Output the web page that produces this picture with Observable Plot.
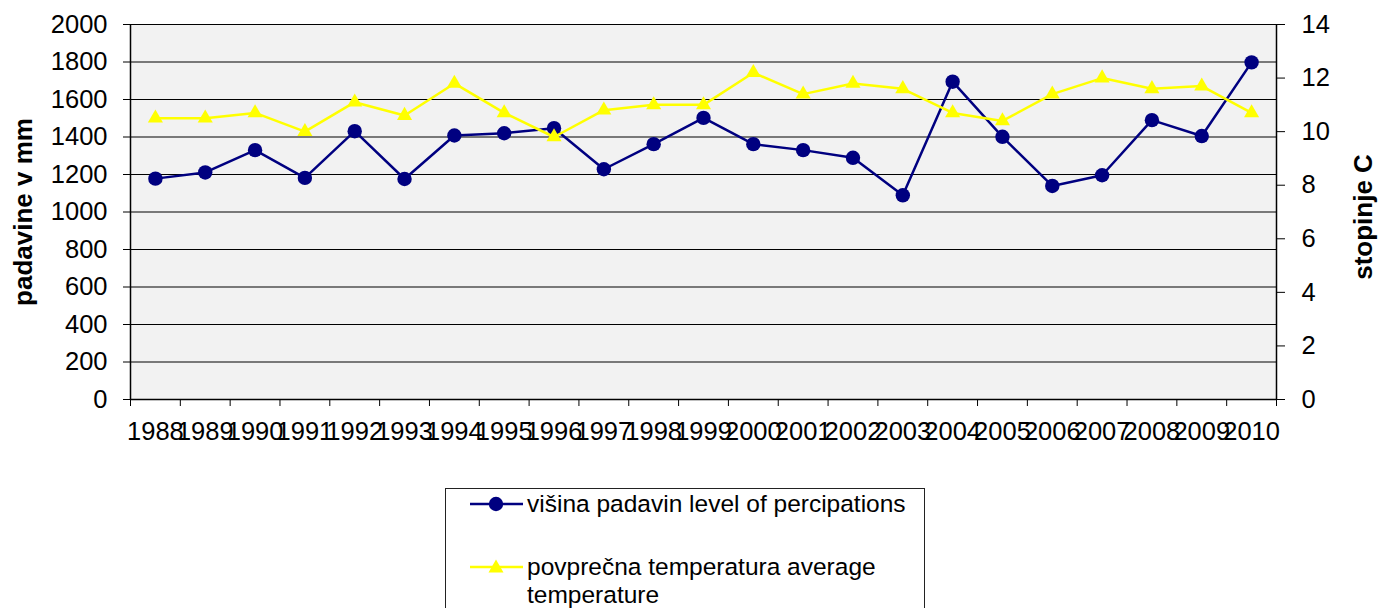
<!DOCTYPE html>
<html>
<head>
<meta charset="utf-8">
<script src="https://cdn.jsdelivr.net/npm/d3@7"></script>
<script src="https://cdn.jsdelivr.net/npm/@observablehq/plot@0.6"></script>
<style>
  html, body { margin: 0; padding: 0; background: #fff; }
  body { width: 1378px; height: 608px; overflow: hidden; font-family: "Liberation Sans", Arial, sans-serif; }
  #chart svg { display: block; }
  #legend { position: relative; margin-left: 445px; margin-top: 18px; width: 480px; height: 140px; border: 1px solid #222; box-sizing: border-box; font-size: 24.5px; color: #000; }
  #legend .row { position: absolute; left: 81px; line-height: 28px; white-space: nowrap; }
  #legend svg { position: absolute; left: 24px; }
</style>
</head>
<body>
<div id="chart"></div>
<div id="legend">
  <svg width="54" height="20" style="top:5px"><line x1="0" x2="53" y1="10" y2="10" stroke="#000080" stroke-width="2.5"/><circle cx="26" cy="10" r="7.2" fill="#000080"/></svg>
  <div class="row" style="top:1px">višina padavin level of percipations</div>
  <svg width="54" height="20" style="top:68px"><line x1="0" x2="53" y1="10" y2="10" stroke="#ffff00" stroke-width="2.5"/><polygon points="26,2.5 33.5,15.5 18.5,15.5" fill="#ffff00"/></svg>
  <div class="row" style="top:64px">povprečna temperatura average<br>temperature</div>
</div>
<script>
const years = [1988,1989,1990,1991,1992,1993,1994,1995,1996,1997,1998,1999,2000,2001,2002,2003,2004,2005,2006,2007,2008,2009,2010];
const precipitation = [1178,1211,1330,1182,1431,1176,1408,1420,1447,1228,1362,1502,1362,1330,1289,1089,1695,1401,1139,1196,1490,1405,1798];
const temperature = [10.5,10.5,10.7,10.0,11.1,10.6,11.8,10.7,9.8,10.8,11.0,11.0,12.2,11.4,11.8,11.6,10.7,10.4,11.4,12.0,11.6,11.7,10.7];
const leftTicks = [0,200,400,600,800,1000,1200,1400,1600,1800,2000];
const rightTicks = [0,2,4,6,8,10,12,14];
const leftTitle = "padavine v mm";
const rightTitle = "stopinje C";

const k = 2000 / 14; // secondary axis: 14 °C spans the same height as 2000 mm
const rows = years.map((y, i) => ({year: String(y), precip: precipitation[i], temp: temperature[i] * k}));
const yearLabels = years.map(String);

const width = 1378, height = 470;
const mL = 130, mR = 102, mT = 24, mB = 71;
const bw = (width - mL - mR) / years.length;
const fs = 25.5;

const chart = Plot.plot({
  width, height,
  marginLeft: mL, marginRight: mR, marginTop: mT, marginBottom: mB,
  style: {fontFamily: "'Liberation Sans', Arial, sans-serif", fontSize: fs + "px", color: "#000", background: "#fff", overflow: "visible"},
  x: {type: "band", domain: yearLabels, padding: 0, round: false, axis: null, label: null},
  y: {domain: [0, 2000], axis: null, label: null},
  marks: [
    Plot.frame({fill: "#f2f2f2", stroke: null}),
    Plot.gridY(leftTicks, {stroke: "#000", strokeOpacity: 1, strokeWidth: 1}),
    // bottom category axis line
    Plot.ruleY([0], {stroke: "#000", strokeWidth: 1.5}),
    // left and right axis lines
    Plot.ruleX([yearLabels[0]], {dx: -bw / 2, y1: 0, y2: 2000, stroke: "#000", strokeWidth: 1.5}),
    Plot.ruleX([yearLabels[yearLabels.length - 1]], {dx: bw / 2, y1: 0, y2: 2000, stroke: "#000", strokeWidth: 1.5}),
    // category tick marks at band boundaries
    Plot.axisX(yearLabels, {tickSize: 7, tickFormat: () => "", dx: -bw / 2, stroke: "#000", label: null}),
    Plot.axisX([yearLabels[yearLabels.length - 1]], {tickSize: 7, tickFormat: () => "", dx: bw / 2, stroke: "#000", label: null}),
    // category labels at band centres
    Plot.axisX(yearLabels, {tickSize: 0, tickPadding: 22, label: null, fontSize: fs}),
    // left value axis
    Plot.axisY(leftTicks, {anchor: "left", tickSize: 7, tickPadding: 16, label: null, fontSize: fs, tickFormat: d => String(d)}),
    // right (temperature) axis
    Plot.axisY(rightTicks.map(t => t * k), {anchor: "right", tickSize: 8, tickPadding: 17, label: null, fontSize: fs, tickFormat: d => String(Math.round(d / k))}),
    // axis titles
    Plot.text([leftTitle], {frameAnchor: "left", dx: -107, rotate: -90, text: d => d, fontWeight: "bold", fontSize: 26, textAnchor: "middle", lineAnchor: "middle"}),
    Plot.text([rightTitle], {frameAnchor: "right", dx: 87, dy: 5, rotate: -90, text: d => d, fontWeight: "bold", fontSize: 26, textAnchor: "middle", lineAnchor: "middle"}),
    // precipitation series
    Plot.line(rows, {x: "year", y: "precip", stroke: "#000080", strokeWidth: 2.5}),
    Plot.dot(rows, {x: "year", y: "precip", r: 7.2, fill: "#000080", stroke: null}),
    // temperature series
    Plot.line(rows, {x: "year", y: "temp", stroke: "#ffff00", strokeWidth: 2.5}),
    Plot.dot(rows, {x: "year", y: "temp", symbol: "triangle", r: 5.6, fill: "#ffff00", stroke: null})
  ]
});
document.getElementById("chart").appendChild(chart);
</script>
</body>
</html>
